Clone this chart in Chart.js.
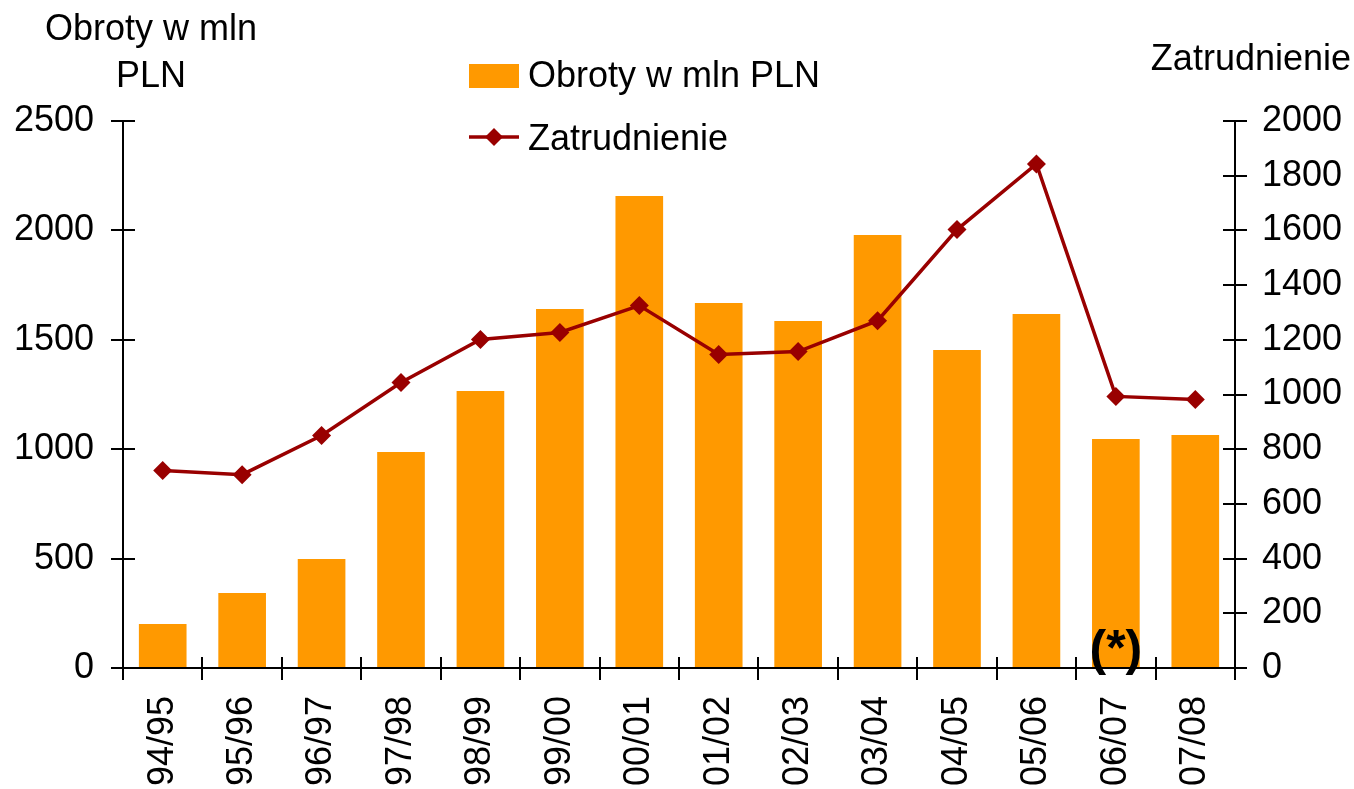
<!DOCTYPE html>
<html>
<head>
<meta charset="utf-8">
<script src="https://cdn.jsdelivr.net/npm/chart.js@4.4.0/dist/chart.umd.min.js"></script>
<style>
html,body{margin:0;padding:0;background:#fff;}
canvas{display:block;}
</style>
</head>
<body>
<canvas id="c" width="1354" height="789"></canvas>
<script>
const categories = ["94/95","95/96","96/97","97/98","98/99","99/00","00/01","01/02","02/03","03/04","04/05","05/06","06/07","07/08"];
const obroty = [201, 343, 498, 987, 1266, 1641, 2157, 1668, 1586, 1979, 1453, 1618, 1047, 1065];
const zatrudnienie = [722, 707, 850, 1044, 1201, 1227, 1325, 1146, 1157, 1270, 1603, 1843, 993, 982];
const leftTitle = ["Obroty w mln", "PLN"];
const rightTitle = "Zatrudnienie";
const seriesNames = ["Obroty w mln PLN", "Zatrudnienie"];
const noteLabel = "(*)";
const noteIndex = 12;

const FONT = "'Liberation Sans', Arial, sans-serif";
const FS = 36;
const BAR = "#FF9900";
const LINE = "#990000";

const extras = {
  id: 'extras',
  afterDraw(chart) {
    const ctx = chart.ctx;
    const x = chart.scales.x, yl = chart.scales.y, yr = chart.scales.y1;
    const ca = chart.chartArea;
    ctx.save();
    ctx.strokeStyle = '#000';
    ctx.lineWidth = 2;
    yl.ticks.forEach((t, i) => {
      const py = Math.round(yl.getPixelForTick(i));
      ctx.beginPath(); ctx.moveTo(ca.left, py); ctx.lineTo(ca.left + 12, py); ctx.stroke();
    });
    yr.ticks.forEach((t, i) => {
      const py = Math.round(yr.getPixelForTick(i));
      ctx.beginPath(); ctx.moveTo(ca.right, py); ctx.lineTo(ca.right - 12, py); ctx.stroke();
    });
    for (let i = 0; i <= categories.length; i++) {
      const px = Math.round(x.getPixelForValue(i - 0.5));
      ctx.beginPath(); ctx.moveTo(px, ca.bottom); ctx.lineTo(px, ca.bottom - 11); ctx.stroke();
    }
    ctx.fillStyle = '#000';
    ctx.font = FS + "px " + FONT;
    ctx.textAlign = 'center';
    ctx.textBaseline = 'alphabetic';
    ctx.fillText(leftTitle[0], 151, 40);
    ctx.fillText(leftTitle[1], 151, 87);
    ctx.textAlign = 'right';
    ctx.fillText(rightTitle, 1351, 70);
    ctx.textAlign = 'left';
    ctx.fillStyle = BAR;
    ctx.fillRect(469, 64, 50, 24);
    ctx.fillStyle = '#000';
    ctx.fillText(seriesNames[0], 528, 87);
    ctx.strokeStyle = LINE;
    ctx.lineWidth = 3.5;
    ctx.beginPath(); ctx.moveTo(469, 137); ctx.lineTo(519, 137); ctx.stroke();
    ctx.fillStyle = LINE;
    ctx.beginPath();
    ctx.moveTo(494, 128); ctx.lineTo(503, 137); ctx.lineTo(494, 146); ctx.lineTo(485, 137); ctx.closePath(); ctx.fill();
    ctx.fillStyle = '#000';
    ctx.fillText(seriesNames[1], 528, 150);
    ctx.font = "bold 50px " + FONT;
    ctx.textAlign = 'center';
    ctx.fillText(noteLabel, x.getPixelForValue(noteIndex), 665);
    ctx.restore();
  }
};

const plain = v => String(v);

new Chart(document.getElementById('c'), {
  data: {
    labels: categories,
    datasets: [
      {
        type: 'line',
        label: seriesNames[1],
        data: zatrudnienie,
        yAxisID: 'y1',
        borderColor: LINE,
        backgroundColor: LINE,
        borderWidth: 3.5,
        pointStyle: 'rectRot',
        pointRadius: 9.5,
        pointBorderWidth: 0,
        tension: 0,
        order: 0
      },
      {
        type: 'bar',
        label: seriesNames[0],
        data: obroty,
        yAxisID: 'y',
        backgroundColor: BAR,
        borderWidth: 0,
        barPercentage: 0.6,
        categoryPercentage: 1.0,
        order: 1
      }
    ]
  },
  options: {
    responsive: false,
    animation: false,
    layout: { padding: { top: 121, left: 0, right: 0, bottom: 0 } },
    plugins: { legend: { display: false }, tooltip: { enabled: false } },
    scales: {
      x: {
        type: 'category',
        offset: true,
        grid: { display: true, drawOnChartArea: false, drawTicks: true, tickLength: 12, color: '#000', lineWidth: 2, offset: true },
        border: { display: true, color: '#000', width: 2 },
        ticks: { color: '#000', font: { family: FONT, size: FS }, minRotation: 90, maxRotation: 90, padding: 16, autoSkip: false },
        afterFit(s) { s.height = 121; }
      },
      y: {
        position: 'left',
        min: 0, max: 2500,
        ticks: { stepSize: 500, color: '#000', font: { family: FONT, size: FS }, padding: 17, callback: plain },
        grid: { display: true, drawOnChartArea: false, drawTicks: true, tickLength: 12, color: '#000', lineWidth: 2 },
        border: { display: true, color: '#000', width: 2 },
        afterFit(s) { s.width = 123; }
      },
      y1: {
        position: 'right',
        min: 0, max: 2000,
        ticks: { stepSize: 200, color: '#000', font: { family: FONT, size: FS }, padding: 15, callback: plain },
        grid: { display: true, drawOnChartArea: false, drawTicks: true, tickLength: 12, color: '#000', lineWidth: 2 },
        border: { display: true, color: '#000', width: 2 },
        afterFit(s) { s.width = 119; }
      }
    }
  },
  plugins: [extras]
});
</script>
</body>
</html>
